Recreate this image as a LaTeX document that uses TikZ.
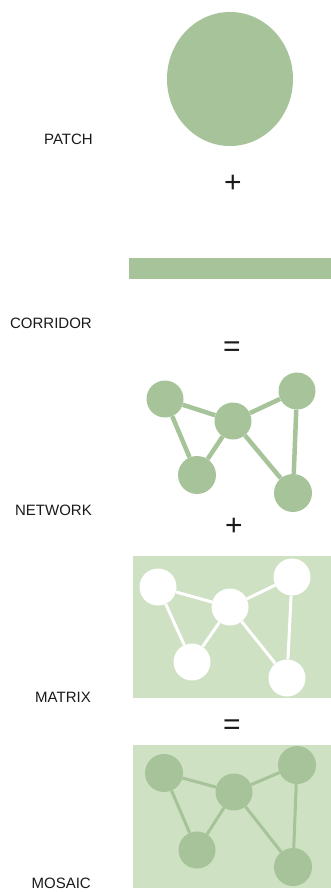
\documentclass[tikz,border=0pt]{standalone}
\usepackage{fontspec}
\setmainfont{Liberation Sans}
\usetikzlibrary{positioning}
\definecolor{patchgreen}{RGB}{166,195,154}
\definecolor{matrixgreen}{RGB}{206,225,194}
\tikzset{
  lbl/.style={anchor=east,inner sep=0pt,font=\fontsize{15}{17}\selectfont,text=black!90},
  sign/.style={inner sep=0pt,font=\fontsize{30}{32}\selectfont,text=black!90},
  hub/.style={circle,fill=#1,inner sep=0pt,minimum size=37pt},
  link/.style={draw=#1,line width=4.5pt},
  thinlink/.style={draw=#1,line width=3pt}
}
\begin{document}
\begin{tikzpicture}[x=1pt,y=1pt,yscale=-1,xscale=1]
\useasboundingbox (0,0) rectangle (331,892);
%Shape: Ellipse [id:patch]
\fill [patchgreen] (230,79) ellipse [x radius=63, y radius=67];
% Text Node
\node [lbl] (patch) at (93,139) {PATCH};
% Text Node
\node [sign] (plusA) at (233,184) {+};
%Shape: Rectangle [id:corridor]
\fill [patchgreen] (129,258) rectangle (331,279);
% Text Node
\node [lbl] (corridor) at (92,323) {CORRIDOR};
% Text Node
\node [sign] (eqA) at (232,349) {=};
%Network
\node [hub=patchgreen] (nA) at (165,399) {};
\node [hub=patchgreen] (nB) at (233,421) {};
\node [hub=patchgreen] (nC) at (297,391) {};
\node [hub=patchgreen,minimum size=38pt] (nD) at (197,475) {};
\node [hub=patchgreen,minimum size=38pt] (nE) at (293,493) {};
\draw [link=patchgreen] (nA) -- (nB) -- (nC) -- (nE) (nA) -- (nD) -- (nB) -- (nE);
% Text Node
\node [lbl] (network) at (92,510) {NETWORK};
% Text Node
\node [sign] (plusB) at (234,527) {+};
%Shape: Rectangle [id:matrix]
\fill [matrixgreen] (133,556) rectangle (331,698);
\node [hub=white] (mA) at (158,587) {};
\node [hub=white] (mB) at (230,607) {};
\node [hub=white] (mC) at (292,577) {};
\node [hub=white] (mD) at (192,662) {};
\node [hub=white] (mE) at (287,678) {};
\draw [thinlink=white] (mA) -- (mB) -- (mC) -- (mE) (mA) -- (mD) -- (mB) -- (mE);
% Text Node
\node [lbl] (matrix) at (91,697) {MATRIX};
% Text Node
\node [sign] (eqB) at (232,727) {=};
%Shape: Rectangle [id:mosaic]
\fill [matrixgreen] (133,745) rectangle (331,888);
\node [hub=patchgreen,minimum size=38pt] (sA) at (164,773) {};
\node [hub=patchgreen] (sB) at (234,792) {};
\node [hub=patchgreen,minimum size=38pt] (sC) at (297,765) {};
\node [hub=patchgreen] (sD) at (197,850) {};
\node [hub=patchgreen,minimum size=38pt] (sE) at (293,867) {};
\draw [thinlink=patchgreen] (sA) -- (sB) -- (sC) -- (sE) (sA) -- (sD) -- (sB) -- (sE);
% Text Node
\node [lbl] (mosaic) at (91,883) {MOSAIC};
\end{tikzpicture}
\end{document}
